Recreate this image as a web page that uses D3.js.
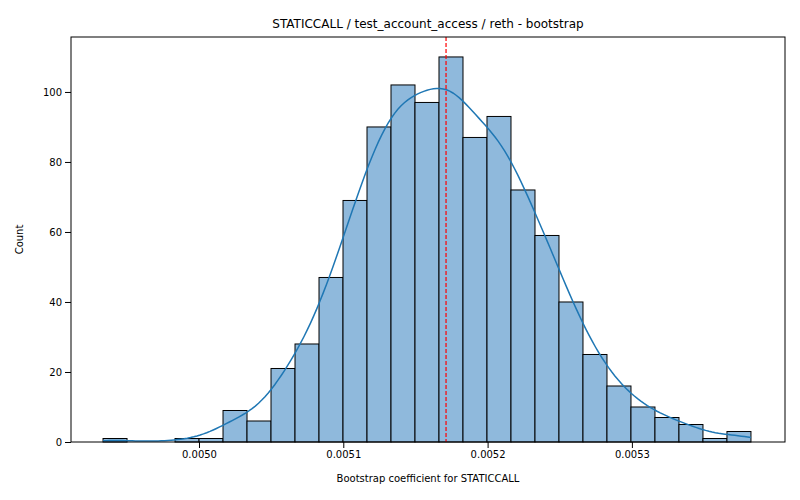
<!DOCTYPE html>
<html lang="en">
<meta charset="UTF-8">
<title>STATICCALL bootstrap</title>
<script src="https://cdnjs.cloudflare.com/ajax/libs/d3/7.8.5/d3.min.js"></script>
<style>
body { margin: 0; background: #fff; font-family: "DejaVu Sans", sans-serif; }
text { font-family: "DejaVu Sans", sans-serif; }
</style>
<body>
<script>
var margin = {top: 37, right: 15, bottom: 58, left: 71},
    width = 800 - margin.left - margin.right,
    height = 500 - margin.top - margin.bottom;

// histogram counts
var start = 0.0049335, binW = 0.00001663;
var counts = [1,0,0,1,1,9,6,21,28,47,69,90,102,97,110,87,93,72,59,40,25,16,10,7,5,1,3];
var meanLine = 0.0051712;

var bins = counts.map(function(c, i) {
  return {x0: start + i * binW, x1: start + (i + 1) * binW, count: c};
});

var x = d3.scaleLinear().domain([0.0049113, 0.0054061]).range([0, width]);
var y = d3.scaleLinear().domain([0, 115.7]).range([height, 0]);

var svg = d3.select("body").append("svg")
    .attr("width", 800).attr("height", 500)
  .append("g")
    .attr("transform", "translate(" + margin.left + "," + margin.top + ")");

svg.selectAll("rect.bar")
  .data(bins)
  .enter().append("rect")
  .attr("class", "bar")
  .attr("x", function(d) { return x(d.x0); })
  .attr("width", function(d) { return x(d.x1) - x(d.x0); })
  .attr("y", function(d) { return y(d.count); })
  .attr("height", function(d) { return y(0) - y(d.count); })
  .style("fill", "#8fb9dc")
  .style("stroke", "black")
  .style("stroke-width", 1);

// kde built from the bin counts
var n = d3.sum(counts);
var mids = bins.map(function(b) { return (b.x0 + b.x1) / 2; });
var mean = d3.sum(mids, function(m, i) { return m * counts[i]; }) / n;
var sd = Math.sqrt(d3.sum(mids, function(m, i) { return counts[i] * (m - mean) * (m - mean); }) / n);
var bw = sd * Math.pow(n, -0.2);
var lo = start, hi = start + counts.length * binW;
var kde = d3.range(0, 201).map(function(k) {
  var xv = lo + (hi - lo) * k / 200;
  var dens = d3.sum(mids, function(m, i) {
    var z = (xv - m) / bw;
    return counts[i] * Math.exp(-0.5 * z * z);
  }) / (n * bw * Math.sqrt(2 * Math.PI));
  return [xv, dens * n * binW];
});

svg.append("path")
  .datum(kde)
  .attr("d", d3.line().x(function(d) { return x(d[0]); }).y(function(d) { return y(d[1]); }))
  .style("fill", "none")
  .style("stroke", "#1f77b4")
  .style("stroke-width", 1.5);

svg.append("line")
  .attr("x1", x(meanLine)).attr("x2", x(meanLine))
  .attr("y1", 0).attr("y2", height)
  .style("stroke", "red").style("stroke-width", 1.2)
  .style("stroke-dasharray", "4,2");

svg.append("rect")
  .attr("width", width).attr("height", height)
  .style("fill", "none").style("stroke", "black").style("stroke-width", 1);

var xAxis = svg.append("g")
  .attr("transform", "translate(0," + height + ")")
  .call(d3.axisBottom(x).tickValues([0.0050, 0.0051, 0.0052, 0.0053]).tickFormat(d3.format(".4f")).tickSizeOuter(0));
var yAxis = svg.append("g")
  .call(d3.axisLeft(y).tickValues([0, 20, 40, 60, 80, 100]).tickSizeOuter(0));
[xAxis, yAxis].forEach(function(a) {
  a.select(".domain").remove();
  a.selectAll("text").style("font-size", "10px").style("fill", "black");
  a.selectAll("line").style("stroke", "black");
});

svg.append("text")
  .attr("x", width / 2).attr("y", height + 40)
  .attr("text-anchor", "middle").style("font-size", "10px")
  .text("Bootstrap coefficient for STATICCALL");

svg.append("text")
  .attr("transform", "rotate(-90)")
  .attr("x", -height / 2).attr("y", -48)
  .attr("text-anchor", "middle").style("font-size", "10px")
  .text("Count");

svg.append("text")
  .attr("x", width / 2).attr("y", -9)
  .attr("text-anchor", "middle").style("font-size", "12px")
  .text("STATICCALL / test_account_access / reth - bootstrap");
</script>
</body>
</html>
